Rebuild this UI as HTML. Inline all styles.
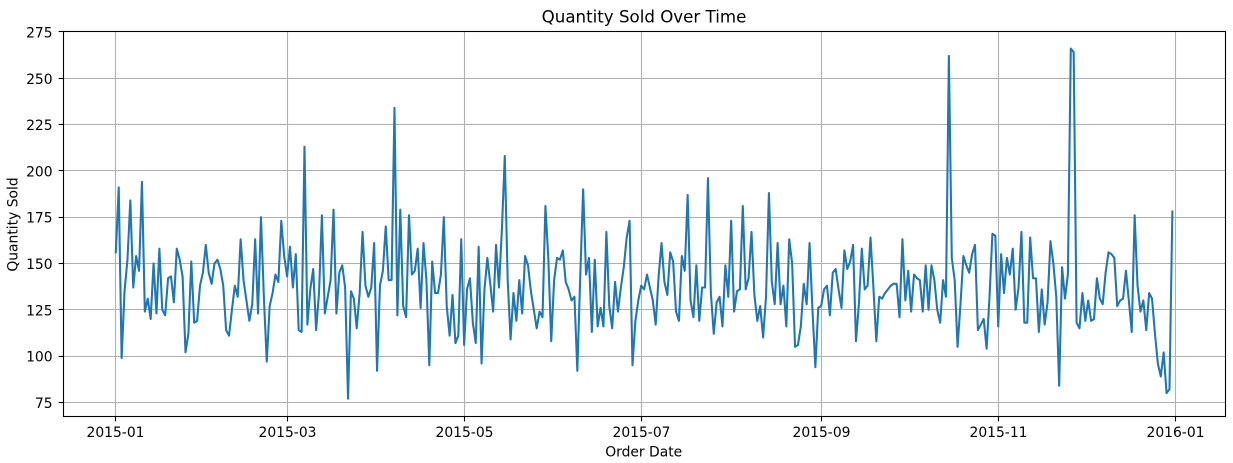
<!DOCTYPE html>
<html lang="en">
<head>
<meta charset="utf-8">
<title>Quantity Sold Over Time</title>
<style>
html,body{margin:0;padding:0;background:#fff;width:1233px;height:463px;overflow:hidden}
svg{display:block}
text{font-family:"DejaVu Sans","Liberation Sans",sans-serif;fill:#000}
</style>
</head>
<body>
<svg id="chart" xmlns="http://www.w3.org/2000/svg" width="1233" height="463" viewBox="0 0 1233 463">
  <rect x="0" y="0" width="1233" height="463" fill="#ffffff"/>
  <g id="grid"></g>
  <g id="series"></g>
  <rect x="63.5" y="31.5" width="1162" height="385" fill="none" stroke="#000" stroke-width="1.1"/>
  <g id="ticks"></g>
  <text x="644" y="22.5" text-anchor="middle" font-size="16.67">Quantity Sold Over Time</text>
  <text x="643.7" y="456.7" text-anchor="middle" font-size="13.89">Order Date</text>
  <text x="0" y="0" text-anchor="middle" font-size="13.89" transform="translate(17.5,224.5) rotate(-90)">Quantity Sold</text>
</svg>
<script>
const startDate = "2015-01-01";
const quantityValues = [
156,191,99,135,152,184,137,154,146,194,
124,131,120,150,123,158,125,122,142,143,
129,158,152,143,102,112,151,118,119,138,
145,160,145,139,150,152,147,138,114,111,
125,138,132,163,141,130,119,128,163,123,
175,132,97,127,134,144,140,173,154,143,
159,137,155,114,113,213,117,136,147,114,
134,176,123,132,141,179,123,145,149,137,
77,135,131,115,134,167,138,132,137,161,
92,138,146,170,141,141,234,122,179,127,
121,176,144,146,158,126,161,141,95,151,
134,134,144,175,127,111,133,107,111,163,
106,136,142,118,107,159,96,136,153,139,
124,160,137,168,208,141,109,134,119,141,
123,154,149,135,125,115,124,121,181,153,
108,141,153,152,157,140,136,130,132,92,
143,190,144,153,113,152,116,126,116,167,
127,115,140,124,137,148,164,173,95,119,
130,138,136,144,137,130,117,143,161,140,
133,156,151,124,119,154,146,187,130,121,
149,119,137,137,196,134,112,129,132,116,
149,132,173,124,135,136,181,136,142,167,
133,119,127,110,132,188,140,128,161,128,
138,116,163,150,105,106,116,139,128,161,
125,94,126,127,136,138,122,145,147,136,
126,157,147,151,160,108,128,158,136,138,
164,137,108,132,131,134,136,138,139,139,
121,163,130,146,124,144,142,141,124,149,
125,149,141,125,118,141,132,262,153,141,
105,128,154,149,145,155,160,114,117,120,
104,132,166,165,116,155,134,153,144,158,
125,137,167,118,118,164,142,142,113,136,
117,129,162,150,132,84,148,131,144,266,
264,118,115,134,119,130,119,120,142,131,
128,145,156,155,153,127,130,131,146,130,
113,176,138,124,130,114,134,131,112,96,
89,102,80,82,178
];
const xTickLabels = ["2015-01","2015-03","2015-05","2015-07","2015-09","2015-11","2016-01"];
const yTickLabels = [75,100,125,150,175,200,225,250,275];

const SVG_NS = "http://www.w3.org/2000/svg";
const plot = { left: 63.5, right: 1225.5, top: 31.5, bottom: 416.5 };
const xRange = [63.0, 1225.2];
const yRange = [416.1, 31.1];
const xDomain = [-18.2, 382.2];
const yDomain = [67.6, 275.4];

function xScale(day) {
  return xRange[0] + (day - xDomain[0]) / (xDomain[1] - xDomain[0]) * (xRange[1] - xRange[0]);
}
function yScale(v) {
  return yRange[0] + (v - yDomain[0]) / (yDomain[1] - yDomain[0]) * (yRange[1] - yRange[0]);
}
function snap(p) {
  return Math.floor(p) + 0.5;
}
function dayOffset(label) {
  const origin = Date.parse(startDate + "T00:00:00Z");
  return (Date.parse(label + "-01T00:00:00Z") - origin) / 86400000;
}
function make(tag, attrs, parent) {
  const el = document.createElementNS(SVG_NS, tag);
  for (const k in attrs) el.setAttribute(k, attrs[k]);
  parent.appendChild(el);
  return el;
}

const gridLayer = document.getElementById("grid");
const tickLayer = document.getElementById("ticks");
const seriesLayer = document.getElementById("series");

xTickLabels.forEach(function (label) {
  const x = snap(xScale(dayOffset(label)));
  const gl = make("line", { x1: x, x2: x, y1: plot.top, y2: plot.bottom, stroke: "#b0b0b0", "stroke-width": 1.1 }, gridLayer);
  
  
  const tk = make("line", { x1: x, x2: x, y1: plot.bottom, y2: plot.bottom + 4.9, stroke: "#000", "stroke-width": 1.1 }, tickLayer);
  
  
  const tx = make("text", { x: x, y: 437, "text-anchor": "middle", "font-size": 13.89 }, tickLayer);
  tx.textContent = label;
  
  
});

yTickLabels.forEach(function (label) {
  const y = snap(yScale(label));
  const gl = make("line", { x1: plot.left, x2: plot.right, y1: y, y2: y, stroke: "#b0b0b0", "stroke-width": 1.1 }, gridLayer);
  
  
  const tk = make("line", { x1: plot.left - 4.9, x2: plot.left, y1: y, y2: y, stroke: "#000", "stroke-width": 1.1 }, tickLayer);
  
  
  const tx = make("text", { x: 52.6, y: yScale(label) + 5.6, "text-anchor": "end", "font-size": 13.89 }, tickLayer);
  tx.textContent = String(label);
  
  
});

const points = quantityValues.map(function (v, i) {
  return xScale(i).toFixed(2) + "," + yScale(v).toFixed(2);
}).join(" ");
const seriesLine = make("polyline", { points: points, fill: "none", stroke: "#1f77b4", "stroke-width": 2.08, "stroke-linejoin": "round", "stroke-linecap": "square" }, seriesLayer);


</script>
</body>
</html>
